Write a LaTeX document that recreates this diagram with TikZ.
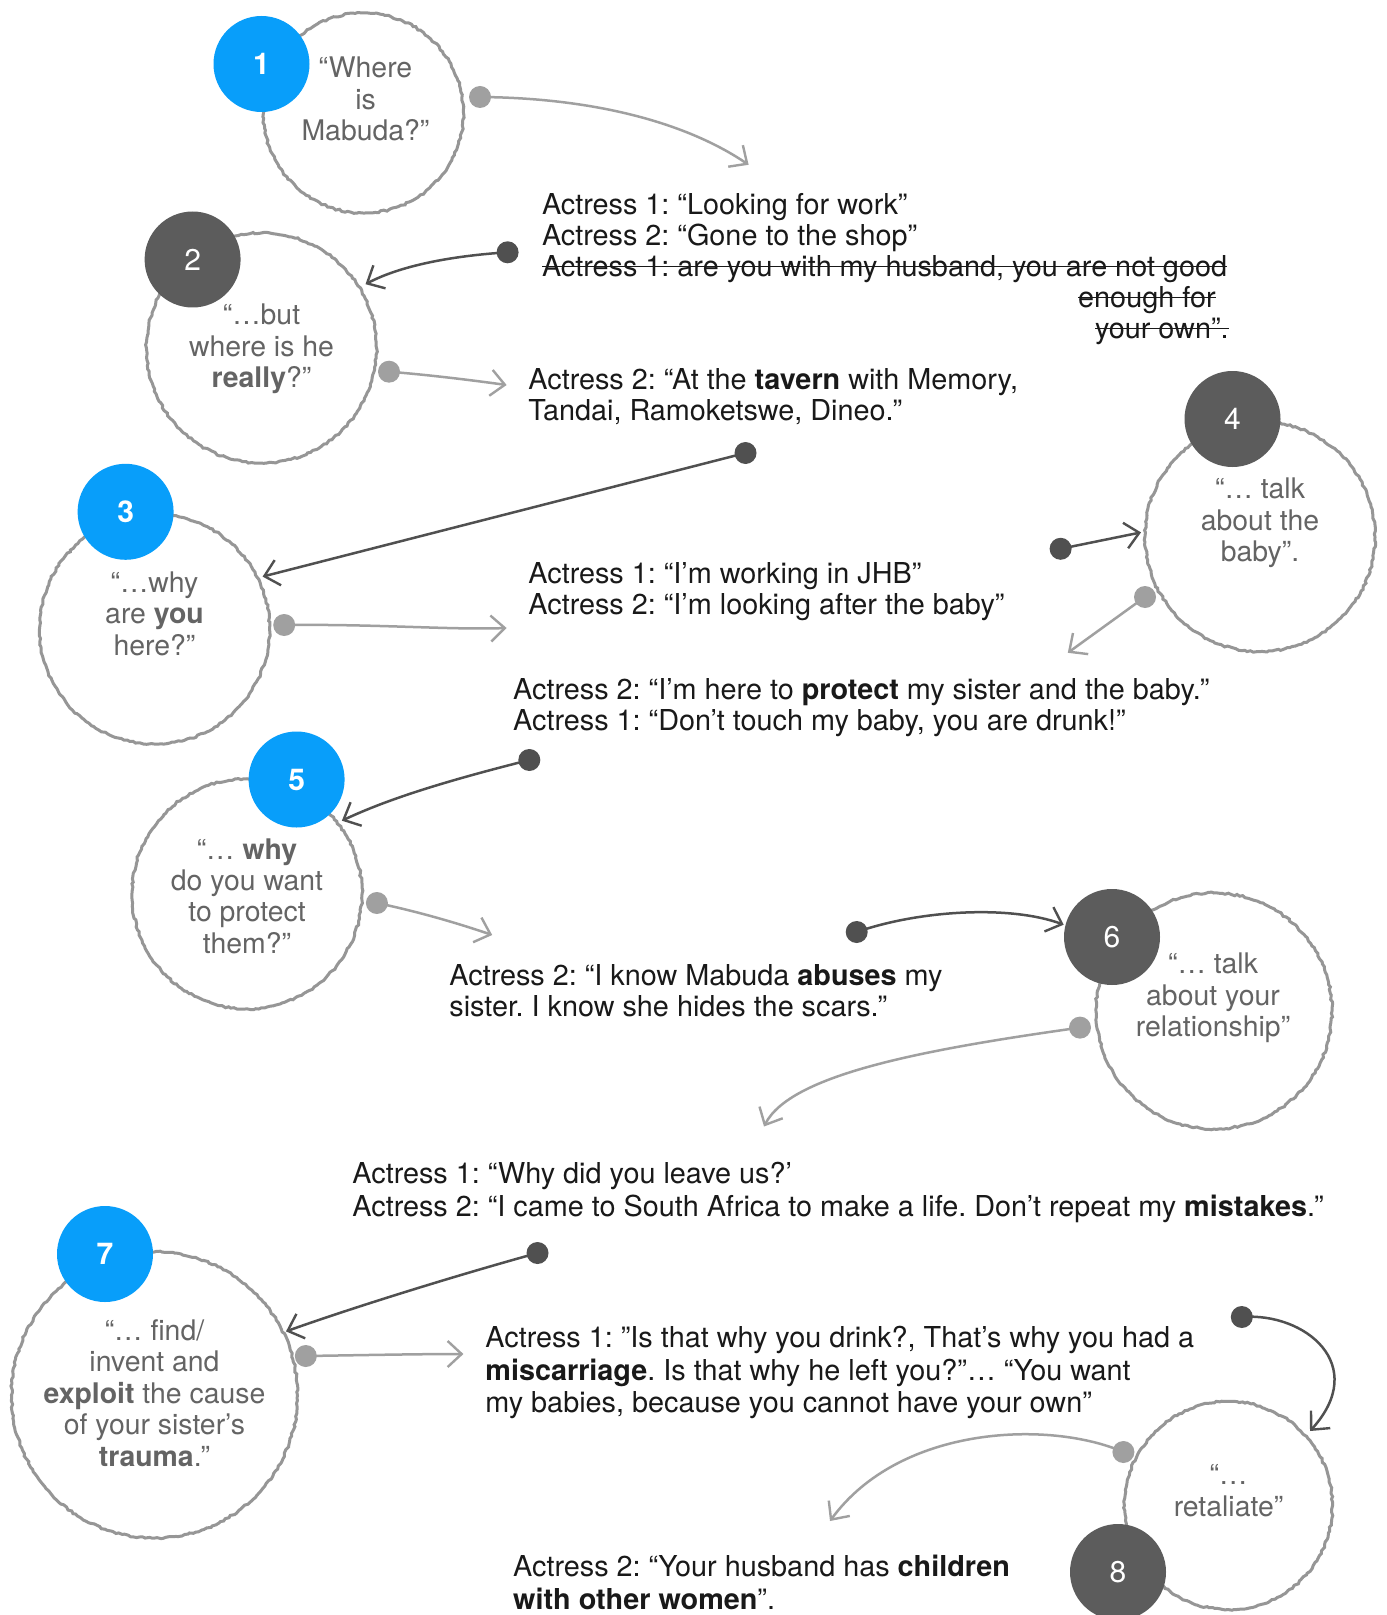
\documentclass[tikz,border=0pt]{standalone}
\usepackage{fontspec}
\setmainfont{TeX Gyre Heros}
\usetikzlibrary{arrows.meta,decorations.pathmorphing}
\definecolor{badgeblue}{RGB}{8,158,250}
\definecolor{badgedark}{RGB}{92,92,92}
\definecolor{ringgrey}{RGB}{150,150,150}
\definecolor{conlight}{RGB}{160,160,160}
\definecolor{condark}{RGB}{80,80,80}
\definecolor{ctextgrey}{RGB}{100,100,100}
\definecolor{maintext}{RGB}{25,25,25}
\newsavebox\mystrkbox
\newcommand\mystrike[1]{\sbox\mystrkbox{#1}\rlap{\rule[0.32em]{\wd\mystrkbox}{0.75pt}}\usebox\mystrkbox}
\frenchspacing
\begin{document}
\pgfmathsetseed{7}
\begin{tikzpicture}[x=0.5pt,y=-0.5pt,
  ring/.style={circle, draw=ringgrey, line width=1.5pt, inner sep=0,
    decorate, decoration={random steps, segment length=1.5pt, amplitude=0.45pt}},
  badgeb/.style={circle, fill=badgeblue, minimum size=48pt, inner sep=0,
    text=white, font=\fontsize{15}{18}\selectfont\bfseries},
  badged/.style={circle, fill=badgedark, minimum size=48pt, inner sep=0,
    text=white, font=\fontsize{15}{18}\selectfont},
  ctext/.style={align=center, inner sep=0, text=ctextgrey,
    font=\fontsize{14.2}{15.7}\selectfont},
  txt/.style={align=left, anchor=north west, inner sep=0, text=maintext,
    font=\fontsize{14.4}{15.5}\selectfont},
  txtb/.style={txt, font=\fontsize{14.4}{16.4}\selectfont},
  dotl/.style={circle, fill=conlight, minimum size=11pt, inner sep=0},
  dotd/.style={circle, fill=condark, minimum size=11pt, inner sep=0},
  conl/.style={draw=conlight, line width=1.25pt,
    -{Straight Barb[length=7pt,width=13pt,line width=1.2pt]}},
  cond/.style={draw=condark, line width=1.25pt,
    -{Straight Barb[length=7pt,width=13pt,line width=1.2pt]}}
]
\useasboundingbox (0,0) rectangle (1386,1615);
\fill[white] (0,0) rectangle (1386,1615);

% rings
\node[ring, minimum size=100pt] (r1) at (363.5,113) {};
\node[ring, minimum size=115pt] (r2) at (261.5,348) {};
\node[ring, minimum size=115pt] (r3) at (154.5,629) {};
\node[ring, minimum size=115pt] (r4) at (1260,536.5) {};
\node[ring, minimum size=115pt] (r5) at (247,893.8) {};
\node[ring, minimum size=118pt] (r6) at (1214,1011) {};
\node[ring, minimum size=143pt] (r7) at (154.5,1395) {};
\node[ring, minimum size=104pt] (r8) at (1228.5,1505.5) {};

% badges
\node[badgeb] (b1) at (261.5,64) {1};
\node[badged] (b2) at (192.6,259.5) {2};
\node[badgeb] (b3) at (125.6,511.8) {3};
\node[badged] (b4) at (1232.5,419) {4};
\node[badgeb] (b5) at (296.6,779.5) {5};
\node[badged] (b6) at (1112,937) {6};
\node[badgeb] (b7) at (105,1254) {7};
\node[badged] (b8) at (1118,1572) {8};

% circle texts
\node[ctext] (q1) at (365.5,98.9) {“Where\\is\\Mabuda?”};
\node[ctext] (q2) at (261.5,349) {“…but\\where is he\\\textbf{really}?”};
\node[ctext] (q3) at (154.5,613.7) {“…why\\are \textbf{you}\\here?”};
\node[ctext] (q4) at (1260,523) {“… talk\\about the\\baby”.};
\node[ctext] (q5) at (247,896) {“… \textbf{why}\\do you want\\to protect\\them?”};
\node[ctext] (q6) at (1213,997.8) {“… talk\\about your\\relationship”};
\node[ctext] (q7) at (154.5,1393) {“… find/\\invent and\\\textbf{exploit} the cause\\of your sister’s\\\textbf{trauma}.”};
\node[ctext] (q8) at (1228.5,1490.5) {“…\\retaliate”};

% dialogue texts
\node[txt] (tA) at (541.6,193) {Actress 1: “Looking for work”\\Actress 2: “Gone to the shop”\\\mystrike{Actress 1: are you with my husband, you are not good}};
\node[txt, anchor=north east, align=right] (tA2) at (1229,286) {\mystrike{enough for}\hspace*{6.5pt}\\\mystrike{your own”.}};
\node[txt] (tB) at (528,368) {Actress 2: “At the \textbf{tavern} with Memory,\\Tandai, Ramoketswe, Dineo.”};
\node[txt] (tC) at (528,562.5) {Actress 1: “I’m working in JHB”\\Actress 2: “I’m looking after the baby”};
\node[txt] (tD) at (512.8,678) {Actress 2: “I’m here to \textbf{protect} my sister and the baby.”\\Actress 1: “Don’t touch my baby, you are drunk!”};
\node[txt] (tE) at (449,964) {Actress 2: “I know Mabuda \textbf{abuses} my\\sister. I know she hides the scars.”};
\node[txtb] (tF) at (352,1162) {Actress 1: “Why did you leave us?’\\Actress 2: “I came to South Africa to make a life. Don’t repeat my \textbf{mistakes}.”};
\node[txtb] (tG) at (485,1325.5) {Actress 1: ”Is that why you drink?, That’s why you had a\\\textbf{miscarriage}. Is that why he left you?”… “You want\\my babies, because you cannot have your own”};
\node[txtb] (tH) at (512.8,1555) {Actress 2: “Your husband has \textbf{children}\\\textbf{with other women}”.};

% connector dots and tips
\node[dotl] (d1) at (480,97) {};
\coordinate (t1) at (748.6,164.8);
\node[dotd] (d2a) at (507.6,252.3) {};
\coordinate (t2a) at (365.5,284.2);
\node[dotl] (d2b) at (389,371.7) {};
\coordinate (t2b) at (506.6,385);
\node[dotd] (d3a) at (745.5,453) {};
\coordinate (t3a) at (262.6,576.6);
\node[dotl] (d3b) at (284.2,625) {};
\coordinate (t3b) at (506.6,628);
\node[dotd] (d4a) at (1060.6,548.8) {};
\coordinate (t4a) at (1141,532.4);
\node[dotl] (d4b) at (1145,597) {};
\coordinate (t4b) at (1067.8,652.8);
\node[dotd] (d5a) at (529.3,760) {};
\coordinate (t5a) at (341.9,820.7);
\node[dotl] (d5b) at (376.9,903) {};
\coordinate (t5b) at (492.2,935);
\node[dotd] (d6a) at (856.7,932) {};
\coordinate (t6a) at (1063.7,924.7);
\node[dotl] (d6b) at (1080,1027.6) {};
\coordinate (t6b) at (764,1126.5);
\node[dotd] (d7a) at (537.5,1253) {};
\coordinate (t7a) at (286,1331.4);
\node[dotl] (d7b) at (305.8,1356) {};
\coordinate (t7b) at (463.4,1354);
\node[dotd] (d8a) at (1241.8,1317) {};
\coordinate (t8a) at (1310,1431);
\node[dotl] (d8b) at (1123.4,1452) {};
\coordinate (t8b) at (830,1521);

% connectors
\draw[conl] (d1.center) .. controls (600,98) and (690,125) .. (t1);
\draw[cond] (d2a.center) .. controls (450,256) and (400,266) .. (t2a);
\draw[conl] (d2b.center) .. controls (430,375) and (470,380) .. (t2b);
\draw[cond] (d3a.center) -- (t3a);
\draw[conl] (d3b.center) .. controls (380,624) and (450,630) .. (t3b);
\draw[cond] (d4a.center) -- (t4a);
\draw[conl] (d4b.center) -- (t4b);
\draw[cond] (d5a.center) .. controls (450,780) and (390,798) .. (t5a);
\draw[conl] (d5b.center) .. controls (420,912) and (460,924) .. (t5b);
\draw[cond] (d6a.center) .. controls (920,910) and (1010,905) .. (t6a);
\draw[conl] (d6b.center) .. controls (920,1050) and (790,1075) .. (t6b);
\draw[cond] (d7a.center) .. controls (440,1280) and (340,1312) .. (t7a);
\draw[conl] (d7b.center) .. controls (370,1355) and (420,1354) .. (t7b);
\draw[cond] (d8a.center) .. controls (1305,1312) and (1370,1365) .. (t8a);
\draw[conl] (d8b.center) .. controls (1050,1420) and (900,1425) .. (t8b);
\end{tikzpicture}
\end{document}
